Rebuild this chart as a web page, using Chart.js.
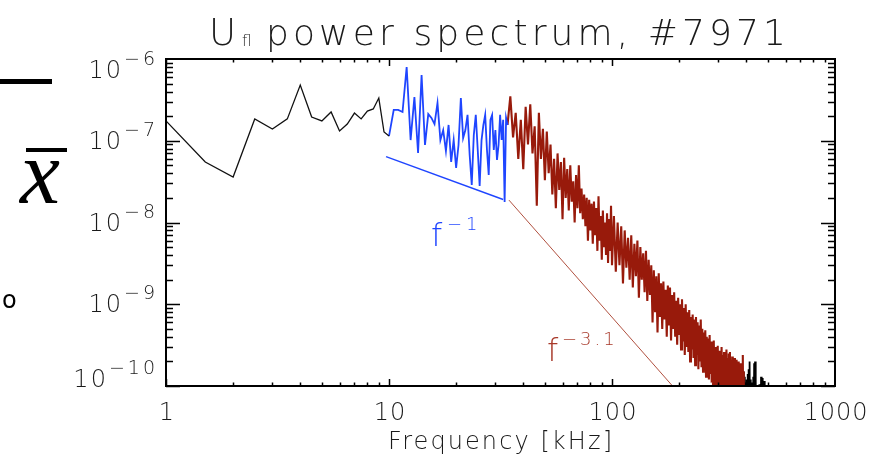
<!DOCTYPE html>
<html>
<head>
<meta charset="utf-8">
<title>Ufl power spectrum</title>
<script src="https://cdn.jsdelivr.net/npm/chart.js@4.4.1/dist/chart.umd.min.js"></script>
<style>
  html, body { margin: 0; padding: 0; background: #fff; }
  #wrap { width: 890px; height: 461px; position: relative; }
</style>
</head>
<body>
<div id="wrap"><canvas id="spectrum"></canvas></div>
<script>
// spectrum bins are evenly spaced, so each segment keeps start + step
function grid(start, step, n) {
    var out = [];
    for (var i = 0; i < n; i++) out.push(+(start + i * step).toFixed(2));
    return out;
}

// 1 - 10 kHz (black)
var lowPower = [1.75e-7, 5.5e-8, 3.6e-8, 1.85e-7, 1.39e-7, 1.85e-7, 4.8e-7, 1.95e-7, 1.75e-7, 2.25e-7,
    1.32e-7, 1.6e-7, 2.18e-7, 1.85e-7, 2.31e-7, 2.45e-7, 3.33e-7, 1.28e-7, 1.14e-7];
var lowFreq = grid(1, 0.5, lowPower.length);

// 10 - 34 kHz (blue, f^-1 range)
var bluePower = [1.14e-7, 2.38e-7, 2.38e-7, 2.25e-7, 7.98e-7, 1.02e-7, 3.43e-7, 7.08e-8, 6.37e-7, 8.87e-8,
    2.12e-7, 1.9e-7, 1.6e-7, 2.9e-7, 1.02e-7, 1.35e-7, 7.5e-8, 1.56e-7, 5.5e-8, 1.02e-7,
    4.65e-8, 8.87e-8, 3.33e-7, 1.08e-7, 1.35e-7, 2.07e-7, 6.7e-8, 2.88e-8, 1.17e-7, 2.07e-7,
    7.71e-8, 2.8e-8, 1.02e-7, 1.56e-7, 2.07e-7, 7.71e-8, 3.81e-8, 1.8e-7, 2.07e-7, 7.71e-8,
    1.35e-7, 5.82e-8, 8.87e-8, 2.07e-7, 1.02e-7, 1.8e-7, 1.78e-8, 1.9e-7, 1.56e-7];
var blueFreq = grid(10, 0.5, bluePower.length);

// 34 - 100 kHz (red)
var midPower = [1.56e-7, 3.5e-7, 1.1e-7, 2.2e-7, 6.0e-8, 1.8e-7, 4.5e-8, 2.6e-7, 9e-8, 2.8e-7,
    7e-8, 1.5e-7, 1.6e-8, 2.2e-7, 6e-8, 1.4e-7, 3.3e-8, 1.3e-7, 4e-8, 9e-8,
    2.2e-8, 6.0e-8, 1.5e-8, 7e-8, 2.5e-8, 5.5e-8, 1.1e-8, 6.2e-8, 2e-8, 4.5e-8,
    1.4e-8, 5e-8, 1.8e-8, 3.2e-8, 1.0e-8, 3.8e-8, 1.5e-8, 5e-8, 1.3e-8, 2.6e-8,
    1.1e-8, 2.2e-8, 9e-9, 2e-8, 6e-9, 1.9e-8, 8e-9, 1.7e-8, 5.5e-9, 1.8e-8,
    7e-9, 1.5e-8, 4.5e-9, 2.1e-8, 6e-9, 1.2e-8, 3.5e-9, 1.4e-8, 5e-9, 1.0e-8,
    4e-9, 1.3e-8, 3.2e-9, 1.1e-8, 4.5e-9, 1.6e-8, 3.0e-9];
var midFreq = grid(34, 1, midPower.length);

// 102 - 390 kHz (red)
var highPower = [1.2e-8, 2.5e-9, 1.0e-8, 3e-9, 9e-9, 1.8e-9, 8e-9, 2.8e-9, 6.5e-9, 2e-9,
    7e-9, 1.6e-9, 5.5e-9, 2.2e-9, 6e-9, 1.2e-9, 5e-9, 2e-9, 4.2e-9, 1.4e-9,
    4.5e-9, 1.1e-9, 3.5e-9, 1.3e-9, 3e-9, 6e-10, 2.6e-9, 8e-10, 2.2e-9, 4.5e-10,
    2.4e-9, 7e-10, 1.8e-9, 5e-10, 1.9e-9, 6.5e-10, 1.5e-9, 4e-10, 1.7e-9, 5.5e-10,
    1.6e-9, 3.6e-10, 1.3e-9, 5e-10, 1.4e-9, 4e-10, 1.1e-9, 3.2e-10, 1.2e-9, 4.2e-10,
    1.0e-9, 2.8e-10, 1.15e-9, 3.5e-10, 9e-10, 2.4e-10, 1.0e-9, 3e-10, 8e-10, 2.6e-10,
    8.5e-10, 2e-10, 7e-10, 2.8e-10, 7.5e-10, 2.2e-10, 6.5e-10, 1.8e-10, 7e-10, 2.4e-10,
    6e-10, 1.6e-10, 5.5e-10, 2e-10, 6.5e-10, 1.7e-10, 5e-10, 1.5e-10, 4.5e-10, 1.9e-10,
    4.8e-10, 1.3e-10, 4e-10, 1.6e-10, 3.8e-10, 1.2e-10, 4.2e-10, 1.4e-10, 3.5e-10, 1.1e-10,
    3.3e-10, 9e-11, 3.6e-10, 1.2e-10, 3e-10, 8e-11, 2.9e-10, 1.0e-10, 3.1e-10, 7e-11,
    2.7e-10, 9e-11, 2.5e-10, 6e-11, 3.0e-10, 8e-11, 2.4e-10, 5e-11, 2.6e-10, 7e-11,
    2.3e-10, 5.5e-11, 2.8e-10, 6e-11, 2.2e-10, 4.5e-11, 2.5e-10, 6e-11, 2.6e-10, 5e-11,
    2.1e-10, 4e-11, 2.3e-10, 5.5e-11, 2.0e-10, 4e-11, 2.2e-10, 5e-11, 1.9e-10, 3.5e-11,
    2.1e-10, 4.5e-11, 1.8e-10, 3e-11, 2.0e-10, 4e-11, 1.7e-10, 3e-11, 1.9e-10, 3.5e-11,
    1.6e-10, 3e-11, 2.4e-10, 3e-11, 1.5e-10];
var highFreq = grid(102, 2, highPower.length);

// 390 - 500 kHz (black, noise floor)
var tailPower = [1.5e-10, 4e-11, 1.3e-10, 3e-11, 1.1e-10, 2.5e-11, 1.2e-10, 3e-11, 1.4e-10, 2e-11,
    1.6e-10, 3e-11, 2.0e-10, 2e-11, 1.2e-10, 2.5e-11, 9e-11, 2e-11, 1.1e-10, 1.5e-11,
    1.3e-10, 2e-11, 1.9e-10, 1.5e-11, 2.0e-10, 2e-11, 1.2e-10, 1.5e-11, 8e-11, 1.2e-11,
    9e-11, 1.5e-11, 6e-11, 1e-11, 1.05e-10, 1.2e-11, 8e-11, 1e-11, 1.3e-10, 1.2e-11,
    1.1e-10, 1e-11, 1.25e-10, 1e-11, 7e-11, 1e-11, 1.15e-10, 1e-11, 5e-11, 1e-11,
    6e-11, 1e-11, 4e-11, 1e-11, 3e-11, 1e-11];
var tailFreq = grid(390, 2, tailPower.length);

// power-law guides: anchor point, end frequency, exponent
var fitLow = { f0: 9.7, p0: 6.4e-8, f1: 32.5, slope: -1 };
var fitHigh = { f0: 34.5, p0: 1.88e-8, f1: 190, slope: -3.1 };

var xTickLabels = ['1', '10', '100', '1000'];
var xTickValues = [1, 10, 100, 1000];
var yTickExps = [-6, -7, -8, -9, -10];

function pts(freq, power) {
    return freq.map(function (f, i) { return { x: f, y: power[i] }; });
}
function fitPts(fit) {
    return [
        { x: fit.f0, y: fit.p0 },
        { x: fit.f1, y: fit.p0 * Math.pow(fit.f1 / fit.f0, fit.slope) }
    ];
}

var RED = '#981a0b';
var BLUE = '#1f45ff';
var TXT = '#1a1a1a';
var THIN = '"DejaVu Sans ExtraLight", "DejaVu Sans", sans-serif';
var SERIF = '"Liberation Serif", serif';

function fitText(ctx, str, x, y, width) {
    ctx.letterSpacing = '0px';
    var w = ctx.measureText(str).width;
    var ls = str.length > 1 ? (width - w) / (str.length - 1) : 0;
    ctx.letterSpacing = ls + 'px';
    ctx.fillText(str, x, y);
    ctx.letterSpacing = '0px';
}

// 10^n style label, right edge at xr
function powLabel(ctx, exp, xr, base) {
    var sup = '\u2212' + Math.abs(exp);
    ctx.textAlign = 'right';
    ctx.font = '200 19px ' + THIN;
    ctx.letterSpacing = '3px';
    ctx.fillText(sup, xr + 3, base - 13);
    var sw = ctx.measureText(sup).width;
    ctx.letterSpacing = '2px';
    ctx.font = '200 24px ' + THIN;
    ctx.fillText('10', xr - sw + 2, base);
    ctx.letterSpacing = '0px';
}

var axisDecor = {
    id: 'axisDecor',
    afterDatasetsDraw: function (chart) {
        var ctx = chart.ctx, a = chart.chartArea;
        var sx = chart.scales.x, sy = chart.scales.y;
        ctx.save();

        // inward ticks on all four sides
        ctx.strokeStyle = '#000';
        ctx.lineWidth = 1.5;
        ctx.beginPath();
        [1, 10, 100].forEach(function (d) {
            for (var m = 1; m <= 9; m++) {
                var px = Math.round(sx.getPixelForValue(d * m)) + 0.5;
                var len = m === 1 ? 7 : 3.5;
                ctx.moveTo(px, a.bottom); ctx.lineTo(px, a.bottom - len);
                ctx.moveTo(px, a.top); ctx.lineTo(px, a.top + len);
            }
        });
        for (var k = -10; k <= -7; k++) {
            for (var m = 1; m <= 9; m++) {
                var py = Math.round(sy.getPixelForValue(m * Math.pow(10, k))) + 0.5;
                var len = m === 1 ? 14 : 7;
                ctx.moveTo(a.left, py); ctx.lineTo(a.left + len, py);
                ctx.moveTo(a.right, py); ctx.lineTo(a.right - len, py);
            }
        }
        ctx.stroke();

        ctx.lineWidth = 2;
        ctx.strokeRect(a.left, a.top, a.right - a.left, a.bottom - a.top);

        // tick labels
        ctx.fillStyle = TXT;
        ctx.textBaseline = 'alphabetic';
        yTickExps.forEach(function (e) {
            var py = sy.getPixelForValue(Math.pow(10, e));
            var base = Math.min(Math.max(py + 8, a.top + 19), a.bottom + 1);
            powLabel(ctx, e, a.left - 11, base);
        });
        ctx.font = '200 24px ' + THIN;
        ctx.textAlign = 'center';
        ctx.letterSpacing = '1px';
        xTickValues.forEach(function (v, i) {
            ctx.fillText(xTickLabels[i], sx.getPixelForValue(v) + 1, a.bottom + 34);
        });
        ctx.letterSpacing = '0px';

        // axis title
        ctx.textAlign = 'left';
        ctx.font = '200 24px ' + THIN;
        fitText(ctx, 'Frequency [kHz]', 388, 449, 224);

        // plot title
        ctx.font = '200 37px ' + THIN;
        ctx.fillText('U', 209, 45);
        ctx.font = '200 15px ' + THIN;
        ctx.fillText('fl', 242, 46);
        ctx.font = '200 36px ' + THIN;
        fitText(ctx, 'power spectrum, #7971', 266, 45, 520);

        // slope labels
        ctx.fillStyle = BLUE;
        ctx.font = '200 32px ' + THIN;
        ctx.fillText('f', 431, 246);
        ctx.font = '200 18px ' + THIN;
        ctx.letterSpacing = '4px';
        ctx.fillText('\u22121', 447, 230);
        ctx.fillStyle = '#a8392a';
        ctx.font = '200 32px ' + THIN;
        ctx.letterSpacing = '0px';
        ctx.fillText('f', 547, 361);
        ctx.font = '200 18px ' + THIN;
        ctx.letterSpacing = '3px';
        ctx.fillText('\u22123.1', 562, 345);
        ctx.letterSpacing = '0px';

        // marks left of the frame
        ctx.fillStyle = '#000';
        ctx.fillRect(0, 79, 52, 5);
        ctx.fillRect(26, 148, 41, 4);
        ctx.font = 'italic 90px ' + SERIF;
        ctx.fillText('x', 20, 203);
        ctx.font = '24px "DejaVu Sans", sans-serif';
        ctx.fillText('o', 2, 308);

        ctx.restore();
    }
};

var ctx = document.getElementById('spectrum').getContext('2d');
new Chart(ctx, {
    type: 'line',
    data: {
        datasets: [
            { data: pts(lowFreq, lowPower), borderColor: '#111', borderWidth: 1.3 },
            { data: pts(blueFreq, bluePower), borderColor: BLUE, borderWidth: 1.8 },
            { data: pts(midFreq.concat(highFreq), midPower.concat(highPower)), borderColor: RED, borderWidth: 2.1 },
            { data: pts(tailFreq, tailPower), borderColor: '#000', borderWidth: 1.8 },
            { data: fitPts(fitLow), borderColor: BLUE, borderWidth: 1.4 },
            { data: fitPts(fitHigh), borderColor: '#b0503f', borderWidth: 1 }
        ]
    },
    options: {
        responsive: true,
        maintainAspectRatio: false,
        animation: false,
        layout: { padding: { left: 166, top: 59, right: 55, bottom: 75 } },
        elements: { point: { radius: 0 }, line: { tension: 0, fill: false } },
        plugins: { legend: { display: false }, tooltip: { enabled: false }, title: { display: false } },
        scales: {
            x: { type: 'logarithmic', min: 1, max: 1000, display: false },
            y: { type: 'logarithmic', min: 1e-10, max: 1e-6, display: false }
        }
    },
    plugins: [axisDecor]
});
</script>
</body>
</html>
